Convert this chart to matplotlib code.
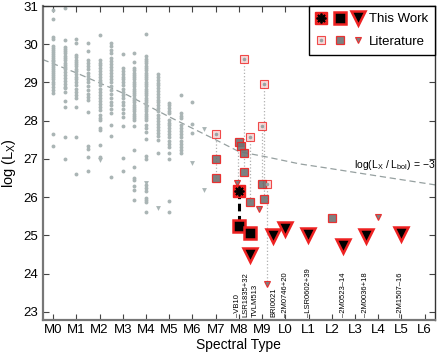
#X-ray luminosity vs spectral type, field stars + late-M/L dwarfs
import matplotlib
matplotlib.use('agg')
import matplotlib.pyplot as plt
from matplotlib.lines import Line2D
from matplotlib.legend_handler import HandlerTuple

plt.rcParams['font.family'] = ['Liberation Sans', 'DejaVu Sans']
plt.rcParams['mathtext.default'] = 'regular'

# field stars: spectral index -> log Lx values
field_x = [0.0, 0.5, 1.0, 1.5, 2.0, 2.5, 3.0, 3.5, 4.0, 4.5, 5.0, 5.5, 6.0]
field_y = [
    [30.9, 30.66, 30.2, 30.13, 29.96, 29.9, 29.85, 29.8, 29.74, 29.69, 29.64, 29.6, 29.55, 29.5, 29.45,
     29.4, 29.36, 29.3, 29.25, 29.2, 29.14, 29.08, 29.02, 28.95, 28.88, 28.8, 28.72, 27.65, 27.34],
    [30.94, 30.11, 29.94, 29.88, 29.82, 29.76, 29.7, 29.64, 29.58, 29.52, 29.46, 29.4, 29.34, 29.28, 29.2,
     29.12, 29.04, 28.96, 28.88, 28.85, 28.76, 28.52, 28.37, 27.56, 27.0],
    [30.14, 30.03, 29.72, 29.66, 29.6, 29.54, 29.48, 29.42, 29.36, 29.3, 29.22, 29.15, 29.08, 29.0, 28.92,
     28.84, 28.76, 28.68, 28.59, 28.35, 27.56, 26.6],
    [30.04, 29.81, 29.59, 29.5, 29.42, 29.35, 29.26, 29.18, 29.1, 29.0, 28.9, 28.8, 28.7, 28.62, 28.54,
     28.22, 27.33, 27.26, 27.05, 26.69],
    [30.24, 29.59, 29.52, 29.45, 29.38, 29.3, 29.22, 29.15, 29.07, 29.0, 28.92, 28.84, 28.76, 28.68, 28.6,
     28.52, 28.44, 28.36, 28.28, 28.15, 28.08, 28.02, 27.8, 27.76, 27.37, 27.04],
    [30.03, 29.95, 29.86, 29.77, 29.64, 29.56, 29.48, 29.4, 29.32, 29.24, 29.16, 29.08, 29.0, 28.9, 28.8,
     28.7, 28.6, 28.5, 28.4, 28.3, 28.2, 27.89, 27.6, 26.53],
    [29.74, 29.38, 29.3, 29.22, 29.15, 29.08, 29.0, 28.92, 28.84, 28.76, 28.68, 28.6, 28.5, 28.4, 28.3,
     28.2, 28.1, 27.86, 27.03, 26.67],
    [29.76, 29.54, 29.38, 29.32, 29.26, 29.2, 29.14, 29.08, 29.02, 28.96, 28.9, 28.84, 28.78, 28.72, 28.66,
     28.6, 28.54, 28.48, 28.42, 28.36, 28.3, 28.24, 28.18, 28.12, 28.06, 28.02, 27.86, 27.22, 26.78,
     26.5, 26.44, 26.3, 26.19, 25.93],
    [30.26, 29.68, 29.62, 29.56, 29.5, 29.44, 29.38, 29.32, 29.26, 29.2, 29.14, 29.08, 29.02, 28.96, 28.9,
     28.84, 28.78, 28.72, 28.66, 28.6, 28.54, 28.48, 28.42, 28.36, 28.3, 28.24, 28.18, 28.12, 28.06, 28.02,
     27.89, 27.8, 27.71, 27.51, 27.08, 26.99, 26.32, 26.25, 26.17, 25.97, 25.93, 25.88, 25.6],
    [29.22, 29.15, 29.07, 28.99, 28.92, 28.85, 28.78, 28.7, 28.62, 28.55, 28.48, 28.4, 28.32, 28.24, 28.16,
     28.08, 28.0, 27.92, 27.84, 27.76, 27.68, 27.6, 27.5, 27.16],
    [28.46, 28.4, 28.33, 28.26, 28.2, 28.02, 27.95, 27.88, 27.8, 27.72, 27.64, 27.56, 27.48, 27.4, 27.32,
     27.15, 27.0, 25.91, 25.6],
    [28.67, 28.2, 28.13, 28.07, 27.89, 27.8, 27.72, 27.64, 27.56, 27.48, 27.4, 27.32, 27.24, 27.15],
    [28.5, 27.9, 27.69],
]
# field star upper limits
field_lim_x = [2.0, 4.0, 4.5, 6.0, 6.5, 6.5]
field_lim_y = [26.97, 26.38, 25.71, 26.9, 27.77, 26.19]

# log(Lx/Lbol) = -3 curve
ratio_x = [-0.45, 1.0, 3.2, 5.0, 7.0, 8.0, 9.2, 10.6, 11.8, 14.0, 16.45]
ratio_y = [29.6, 29.25, 28.67, 28.1, 27.5, 27.19, 27.05, 26.87, 26.76, 26.55, 26.32]

# literature values
lit_circ_x = [7.0, 8.2, 8.48, 9.0, 9.1, 9.2]
lit_circ_y = [27.65, 29.61, 27.56, 27.86, 28.96, 26.35]
lit_sq_x = [7.0, 7.0, 8.0, 8.1, 8.2, 8.2, 8.48, 9.0, 9.1, 12.0]
lit_sq_y = [27.0, 26.5, 27.45, 27.34, 27.15, 26.65, 25.86, 26.35, 25.95, 25.45]
lit_tri_x = [7.9, 8.88, 9.2, 14.0]
lit_tri_y = [26.36, 25.68, 23.73, 25.49]

# objects with several literature values (x, top, bottom)
multi_x = [7.0, 7.95, 8.2, 8.48, 9.0, 9.1, 9.2]
multi_top = [27.65, 27.45, 29.61, 27.56, 27.86, 28.96, 26.35]
multi_bot = [26.5, 26.36, 26.65, 25.86, 26.35, 25.95, 23.73]

# this work
tw_star_x = [8.0]
tw_star_y = [26.15]
tw_sq_x = [8.0, 8.48]
tw_sq_y = [25.25, 25.06]
tw_tri_x = [8.48, 9.48, 10.0, 10.96, 12.47, 13.48, 14.96]
tw_tri_y = [24.49, 24.97, 25.16, 25.01, 24.73, 24.97, 25.03]

names = ['\u2013VB10', 'LSR1835+32', 'TVLM513', 'BRI0021', '\u20132M0746+20', '\u2013LSR0602+39',
         '\u20132M0523\u201314', '\u20132M0036+18', '\u20132M1507\u201316']
name_x = [7.93, 8.31, 8.72, 9.5, 10.0, 10.98, 12.49, 13.45, 14.96]

sptypes = ['M0', 'M1', 'M2', 'M3', 'M4', 'M5', 'M6', 'M7', 'M8', 'M9',
           'L0', 'L1', 'L2', 'L3', 'L4', 'L5', 'L6']

fgray = '#aab5b5'
red = '#ee2222'
litgray = '#6f7373'


class Overlay(tuple):
    pass


fig = plt.figure(figsize=(4.4, 3.53), dpi=100)
ax = fig.add_axes([0.097, 0.093, 0.892, 0.890])

for x, ys in zip(field_x, field_y):
    ax.plot([x] * len(ys), ys, 'o', ms=2.8, color=fgray, mec='none', zorder=2)
ax.plot(field_lim_x, field_lim_y, 'v', ms=3.5, color=fgray, mec='none', zorder=2)

ax.plot(ratio_x, ratio_y, '--', color='#96a0a0', lw=0.9, dashes=(5, 3), zorder=1)
ax.text(12.95, 26.84, r'log(L$_X$ / L$_{bol}$) = $-$3', fontsize=7.5, va='center')

for x, t, b in zip(multi_x, multi_top, multi_bot):
    ax.plot([x, x], [t, b], ':', color='#b0b0b0', lw=0.9, zorder=3)
ax.plot([tw_star_x[0], tw_sq_x[0]], [tw_star_y[0], tw_sq_y[0]], '--', color='black', lw=2.2,
        dashes=(2.5, 1.5), zorder=4)
ax.errorbar(tw_star_x, tw_star_y, xerr=0.25, fmt='none', ecolor='black', lw=0.8, zorder=4)

# literature
circ_kw = dict(marker='s', ms=5.5, mfc='#f4d0d0', mec=red, mew=0.8, alpha=0.8, ls='none')
dot_kw = dict(marker='o', ms=2.6, color='#9aa4a4', mec='none', ls='none')
sq_kw = dict(marker='s', ms=5.5, mfc=litgray, mec=red, mew=0.9, alpha=0.9, ls='none')
tri_kw = dict(marker='v', ms=5.0, mfc=litgray, mec=red, mew=0.8, alpha=0.9, ls='none')
ax.plot(lit_circ_x, lit_circ_y, zorder=5, **circ_kw)
ax.plot(lit_circ_x, lit_circ_y, zorder=6, **dot_kw)
ax.plot(lit_sq_x, lit_sq_y, zorder=5, **sq_kw)
ax.plot(lit_tri_x, lit_tri_y, zorder=5, **tri_kw)

# this work
star_bg = dict(marker='s', ms=8, mfc=red, mec=red, ls='none')
star_kw = dict(marker=(8, 2, 0), ms=7, color='black', mew=1.3, ls='none')
twsq_kw = dict(marker='s', ms=8.5, mfc='black', mec=red, mew=1.8, ls='none')
twtri_kw = dict(marker='v', ms=10, mfc='black', mec=red, mew=1.8, ls='none')
ax.plot(tw_star_x, tw_star_y, zorder=7, **star_bg)
ax.plot(tw_star_x, tw_star_y, zorder=8, **star_kw)
ax.plot(tw_sq_x, tw_sq_y, zorder=7, **twsq_kw)
ax.plot(tw_tri_x, tw_tri_y, zorder=7, **twtri_kw)

for n, x in zip(names, name_x):
    ax.text(x, 22.87, n, rotation=90, ha='center', va='bottom', fontsize=5.5)

ax.set_xlim(-0.45, 16.45)
ax.set_ylim(22.78, 31)
ax.set_xticks(range(17))
ax.set_xticklabels(sptypes)
ax.set_yticks(range(23, 32))
ax.tick_params(direction='in', top=True, right=True, length=4, width=0.8, labelsize=9.5, pad=3,
               color='#444444')
for s in ax.spines.values():
    s.set_color('#333333')
    s.set_linewidth(1.0)
ax.spines['bottom'].set_color('#777777')
ax.spines['bottom'].set_linewidth(1.6)
ax.spines['left'].set_color('#777777')
ax.spines['left'].set_linewidth(1.6)
ax.set_xlabel('Spectral Type', fontsize=10, labelpad=1)
ax.set_ylabel('log (L$_X$)', fontsize=10.5, labelpad=4)

h_tw = (Overlay([Line2D([], [], **star_bg), Line2D([], [], **star_kw)]),
        Line2D([], [], **twsq_kw), Line2D([], [], **twtri_kw))
h_lit = (Overlay([Line2D([], [], **circ_kw), Line2D([], [], **dot_kw)]),
         Line2D([], [], **sq_kw), Line2D([], [], **tri_kw))

leg = ax.legend([h_tw, h_lit], ['This Work', 'Literature'],
                handler_map={Overlay: HandlerTuple(ndivide=1), tuple: HandlerTuple(ndivide=None, pad=0.6)},
                loc='upper right', fontsize=9.5, handlelength=3.6, handletextpad=0.4,
                borderaxespad=0.0, fancybox=False, framealpha=1, edgecolor='black',
                borderpad=0.55, labelspacing=0.75)
leg.get_frame().set_linewidth(1.0)

fig.savefig('out.png', dpi=100)
plt.close()
